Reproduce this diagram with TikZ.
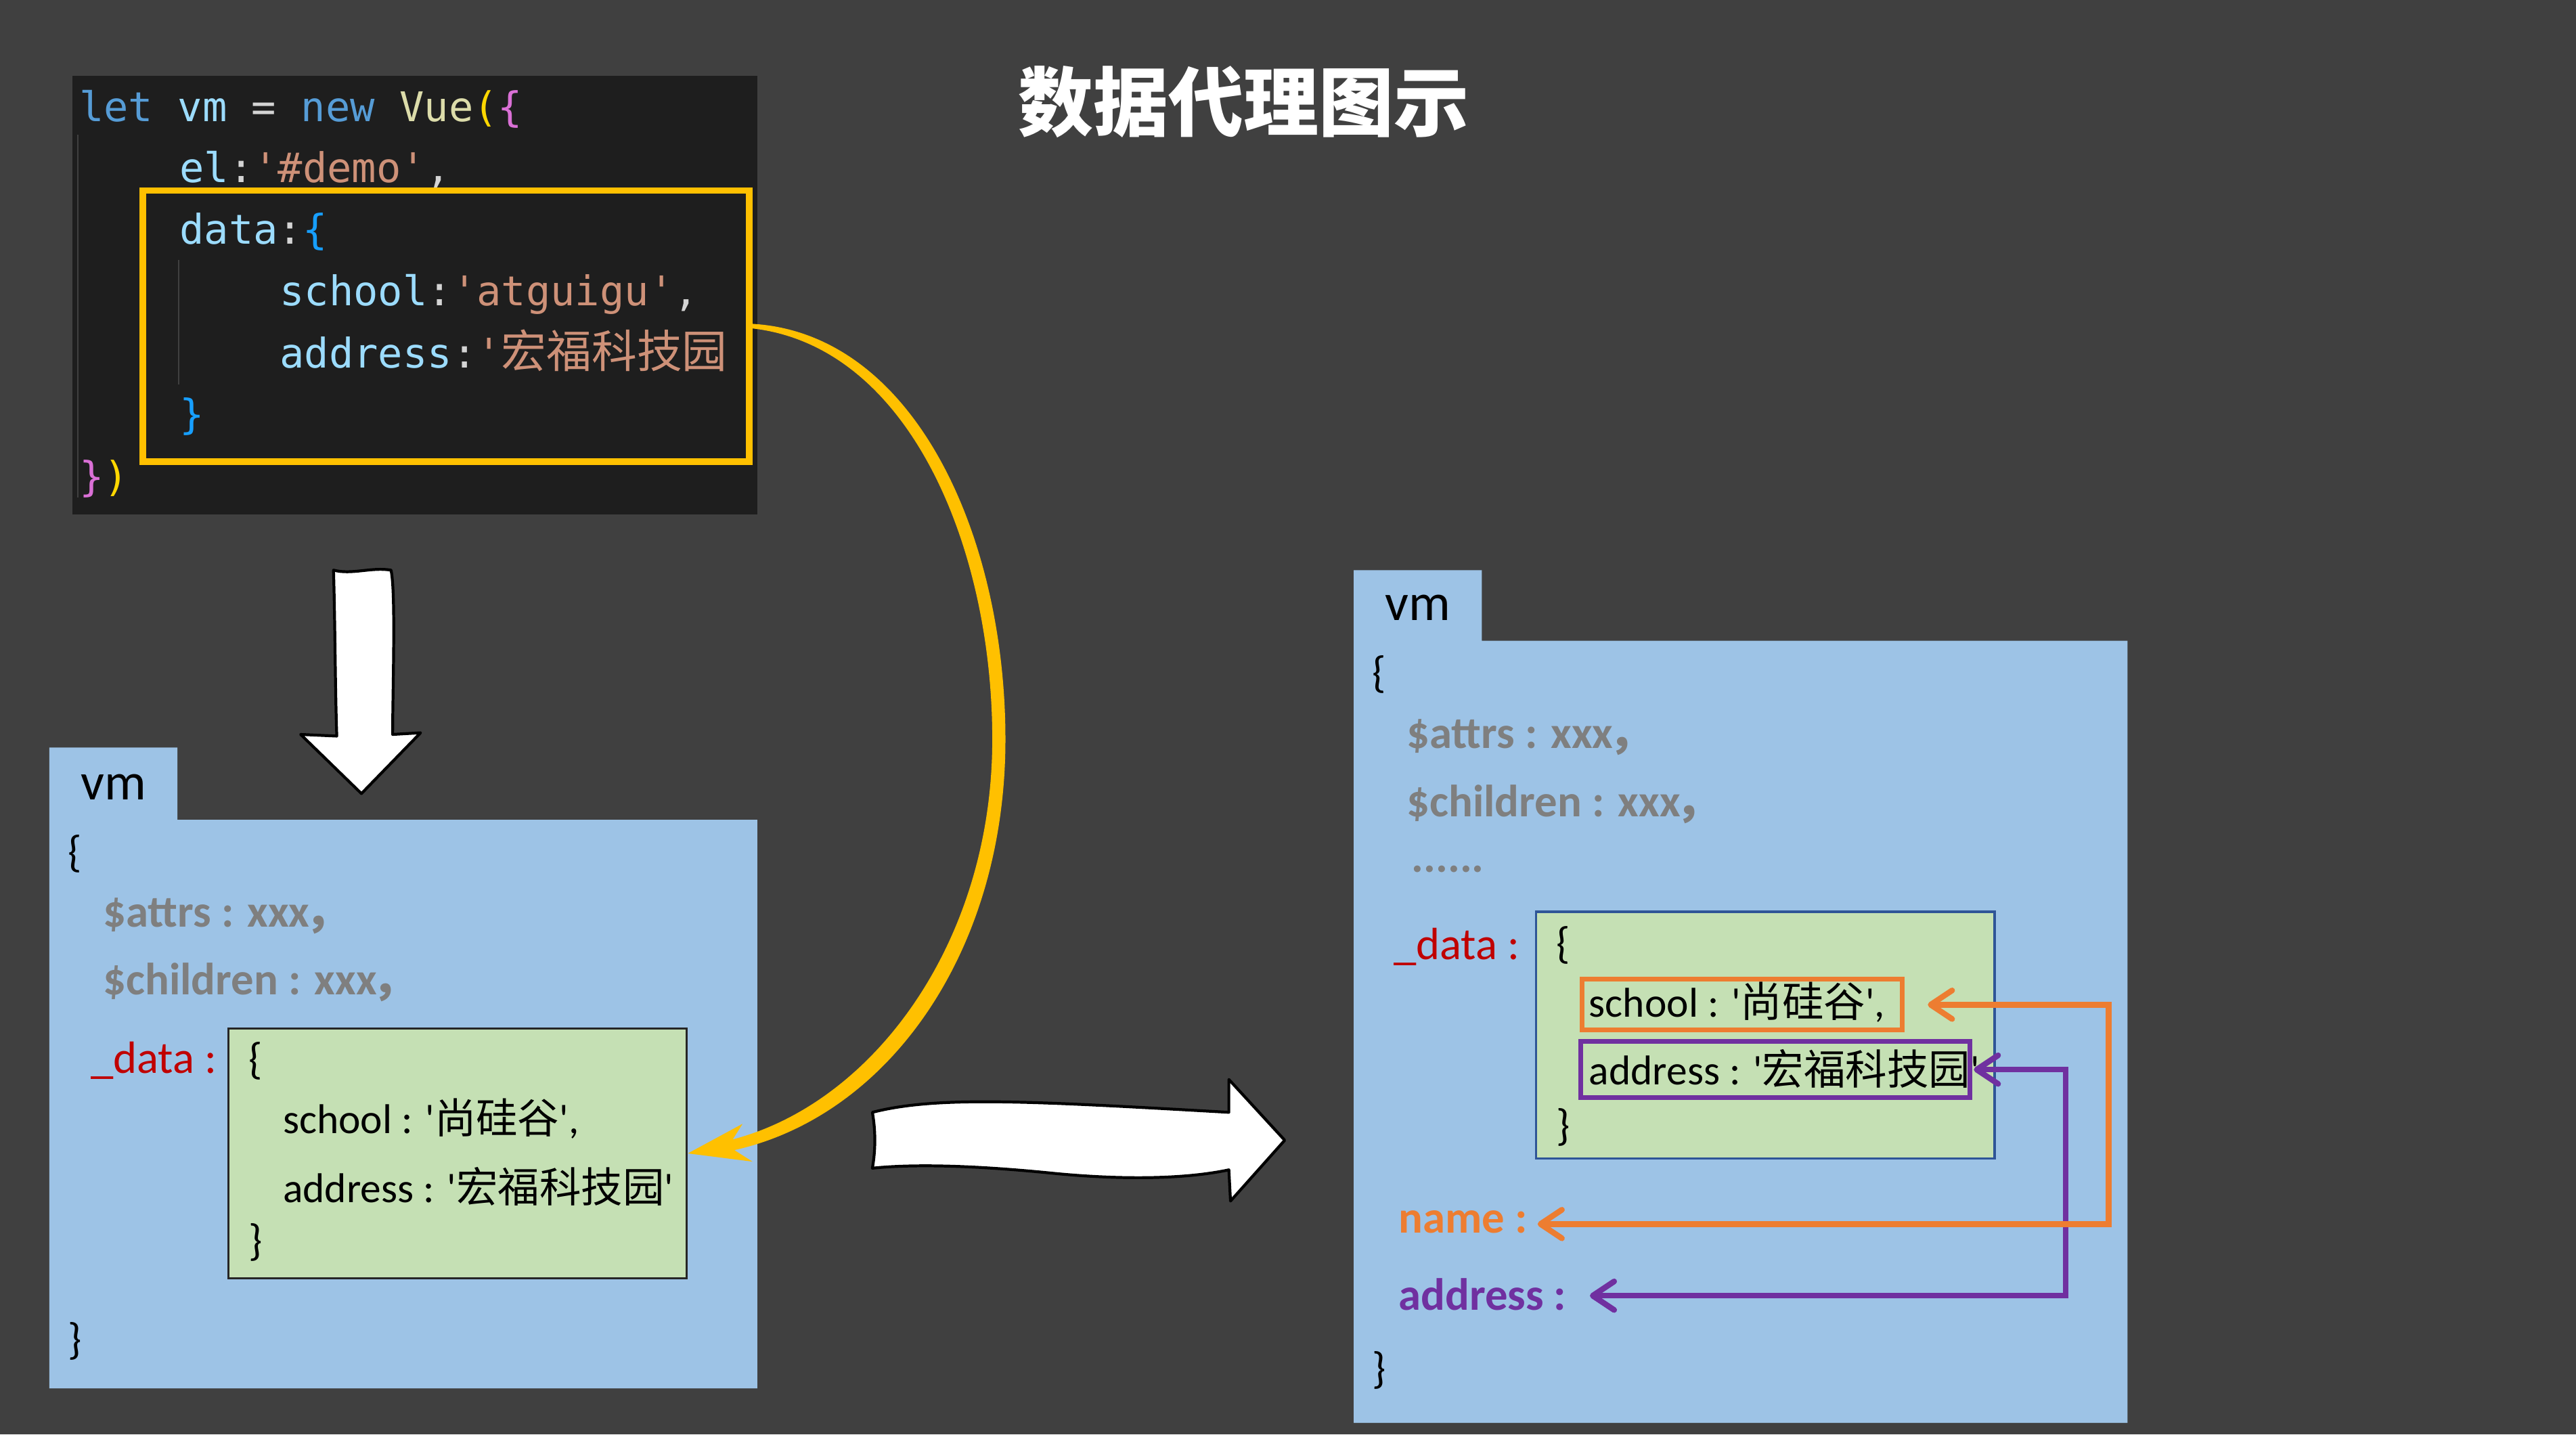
\documentclass[tikz,border=0pt]{standalone}
\usepackage{fontspec}
\setmainfont{Carlito}
\setmonofont{DejaVu Sans Mono}
\newfontfamily\cjk{Noto Sans CJK SC}
\usetikzlibrary{arrows.meta,calc,fit,positioning}
\definecolor{bgcol}{HTML}{404040}
\definecolor{codebg}{HTML}{1E1E1E}
\definecolor{kwcol}{HTML}{569CD6}
\definecolor{varcol}{HTML}{9CDCFE}
\definecolor{fncol}{HTML}{DCDCAA}
\definecolor{strcol}{HTML}{CE9178}
\definecolor{opcol}{HTML}{D4D4D4}
\definecolor{parcol}{HTML}{FFD700}
\definecolor{brpur}{HTML}{DA70D6}
\definecolor{brblue}{HTML}{179FFF}
\definecolor{hlyel}{HTML}{FFC000}
\definecolor{vmblue}{HTML}{9DC3E6}
\definecolor{datgreen}{HTML}{C5E0B4}
\definecolor{keygray}{HTML}{7F7F7F}
\definecolor{datred}{HTML}{C00000}
\definecolor{boxdark}{HTML}{262626}
\definecolor{boxblue}{HTML}{2F5597}
\definecolor{proxorange}{HTML}{ED7D31}
\definecolor{proxpurple}{HTML}{7030A0}
\def\pxu{0.024273cm}
\def\q{\textquotesingle}
\def\zh#1{{\cjk #1}}
\def\zc{\kern-2pt\zh{，}}
\def\tc#1#2{\textcolor{#1}{#2}}

\begin{document}
\begin{tikzpicture}[x=\pxu, y=-\pxu,
	code/.style={anchor=base west, inner sep=0pt, font=\ttfamily\fontsize{17.2}{20}\selectfont},
	txt/.style={anchor=base west, inner sep=0pt, font=\fontsize{17.5}{21}\selectfont},
	brace/.style={txt, font=\fontsize{18.5}{21}\selectfont},
	key/.style={txt, text=keygray, font=\bfseries\fontsize{19}{22}\selectfont},
	tab/.style={txt, font=\fontsize{22}{24}\selectfont},
	guide/.style={draw=bgcol, line width=0.6pt},
	sketch/.style={draw=black, fill=white, line width=1.2pt, line join=round},
	prox/.style={line width=2.4pt, {Straight Barb[length=9pt,width=12pt,round]}-{Straight Barb[length=9pt,width=12pt,round]}},
]
	%%%%% START %%%%%
	
	\fill[bgcol] (0,0) rectangle (1568,873);
	\useasboundingbox (0,0) rectangle (1568,873);
	
	\node[font=\cjk\bfseries\fontsize{31.6}{36}\selectfont, text=white, inner sep=0pt] (title) at (757,62) {数据代理图示};
	
	% code
	\fill[codebg] (44,46) rectangle (461,313);
	\draw[guide] (47.5,82) -- (47.5,303);
	\draw[guide] (108.8,158) -- (108.8,234);
	\node[code] (line1) at (48,74) {\tc{kwcol}{let} \tc{varcol}{vm} \tc{opcol}{=} \tc{kwcol}{new} \tc{fncol}{Vue}\tc{parcol}{(}\tc{brpur}{\{}};
	\node[code] (line2) at (109,111) {\tc{varcol}{el}\tc{opcol}{:}\tc{strcol}{'\#demo'}\tc{opcol}{,}};
	\node[code] (line3) at (109,148.5) {\tc{varcol}{data}\tc{opcol}{:}\tc{brblue}{\{}};
	\node[code] (line4) at (170,186) {\tc{varcol}{school}\tc{opcol}{:}\tc{strcol}{'atguigu'}\tc{opcol}{,}};
	\node[code] (line5) at (170,224) {\tc{varcol}{address}\tc{opcol}{:}\tc{strcol}{'{\cjk\fontsize{19}{20}\selectfont 宏福科技园}}};
	\node[code] (line6) at (109,261) {\tc{brblue}{\}}};
	\node[code] (line7) at (48,299) {\tc{brpur}{\}}\tc{parcol}{)}};
	\node[fit={(87,116) (456,281)}, inner sep=0pt, draw=hlyel, line width=2.8pt] (databox) {};
	
	% arrows
	\draw[sketch] (203,347) .. controls (214,350) and (226,345) .. (238,347) .. controls (241,360) and (239,420) .. (239,447) -- (256,446) -- (220,483) -- (183,447) -- (205,448) .. controls (204,420) and (204,380) .. (203,347) -- cycle;
	\draw[sketch] (531,677) .. controls (570,667) and (625,670) .. (748,677) -- (748,657) -- (782,694) -- (749,731) -- (748,712) .. controls (720,718) and (680,718) .. (640,714) .. controls (600,710) and (560,708) .. (531,711) .. controls (533,700) and (533,688) .. (531,677) -- cycle;
	
	% vm before
	\fill[vmblue] (30,455) -- (108,455) -- (108,499) -- (461,499) -- (461,845) -- (30,845) -- cycle;
	\node[tab] (vmL) at (49,486.8) {vm};
	\node[brace] (openL) at (41,527.5) {\{};
	\node[key] (attrsL) at (62.5,564.4) {\$attrs : xxx\zc};
	\node[key] (childL) at (62.5,605.6) {\$children : xxx\zc};
	\node[txt, text=datred, font=\fontsize{19}{22}\selectfont] (dataL) at (55,653) {\_data :};
	\node[fit={(139,626) (418,778)}, inner sep=0pt, draw=boxdark, line width=1pt, fill=datgreen] (greenL) {};
	\node[brace] (gopenL) at (151,653.5) {\{};
	\node[txt] (schoolL) at (172,690) {school : \q\zh{尚硅谷}\q,};
	\node[txt] (addrL) at (172,732) {address : \q\zh{宏福科技园}\q};
	\node[brace] (gcloseL) at (151,764) {\}};
	\node[brace] (closeL) at (41,824) {\}};
	
	% vm after
	\fill[vmblue] (824,347) -- (902,347) -- (902,390) -- (1295,390) -- (1295,866) -- (824,866) -- cycle;
	\node[tab] (vmR) at (843,377.7) {vm};
	\node[brace] (openR) at (835,418.5) {\{};
	\node[key] (attrsR) at (856,455.3) {\$attrs : xxx\zc};
	\node[key] (childR) at (856,497.2) {\$children : xxx\zc};
	\node[key] (dotsR) at (859,531) {......};
	\node[txt, text=datred, font=\fontsize{19}{22}\selectfont] (dataR) at (848,584) {\_data :};
	\node[fit={(935,555) (1214,705)}, inner sep=0pt, draw=boxblue, line width=1pt, fill=datgreen] (greenR) {};
	\node[brace] (gopenR) at (947,583) {\{};
	\node[fit={(963,596) (1158,627)}, inner sep=0pt, draw=proxorange, line width=2pt] (schoolR) {};
	\node[txt] (schooltxt) at (967,619) {school : \q\zh{尚硅谷}\q,};
	\node[fit={(962,634) (1199,668)}, inner sep=0pt, draw=proxpurple, line width=2pt] (addrR) {};
	\node[txt] (addrtxt) at (967,660) {address : \q\zh{宏福科技园}\q};
	\node[brace] (gcloseR) at (947,694) {\}};
	\node[txt, text=proxorange, font=\bfseries\fontsize{19}{22}\selectfont] (namekey) at (851,750.5) {name :};
	\node[txt, text=proxpurple, font=\bfseries\fontsize{19}{22}\selectfont] (addrkey) at (851,797.2) {address :};
	\node[brace] (closeR) at (835,842) {\}};
	
	\draw[prox, proxpurple] ([xshift=1*\pxu]addrR.east) -- ++(56,0) |- ([xshift=14*\pxu, yshift=8.6*\pxu]addrkey.base east);
	\draw[prox, proxorange] ([xshift=14*\pxu]schoolR.east) -- ++(110,0) |- ([xshift=6*\pxu, yshift=5.5*\pxu]namekey.base east);
	
	% data goes into _data
	\fill[hlyel] ($(databox.east)+(0,-1.4)$) .. controls (557,203) and (612,327) .. (612,450) .. controls (612,579) and (541,679) .. (447,700) -- (458,707) -- (greenL.east) -- (452,684) -- (446,693.5) .. controls (532,671) and (604,573) .. (604,450) .. controls (604,334) and (554,211) .. ($(databox.east)+(0,1.4)$) -- cycle;
	
	%%%%% END %%%%%
\end{tikzpicture}
\end{document}
